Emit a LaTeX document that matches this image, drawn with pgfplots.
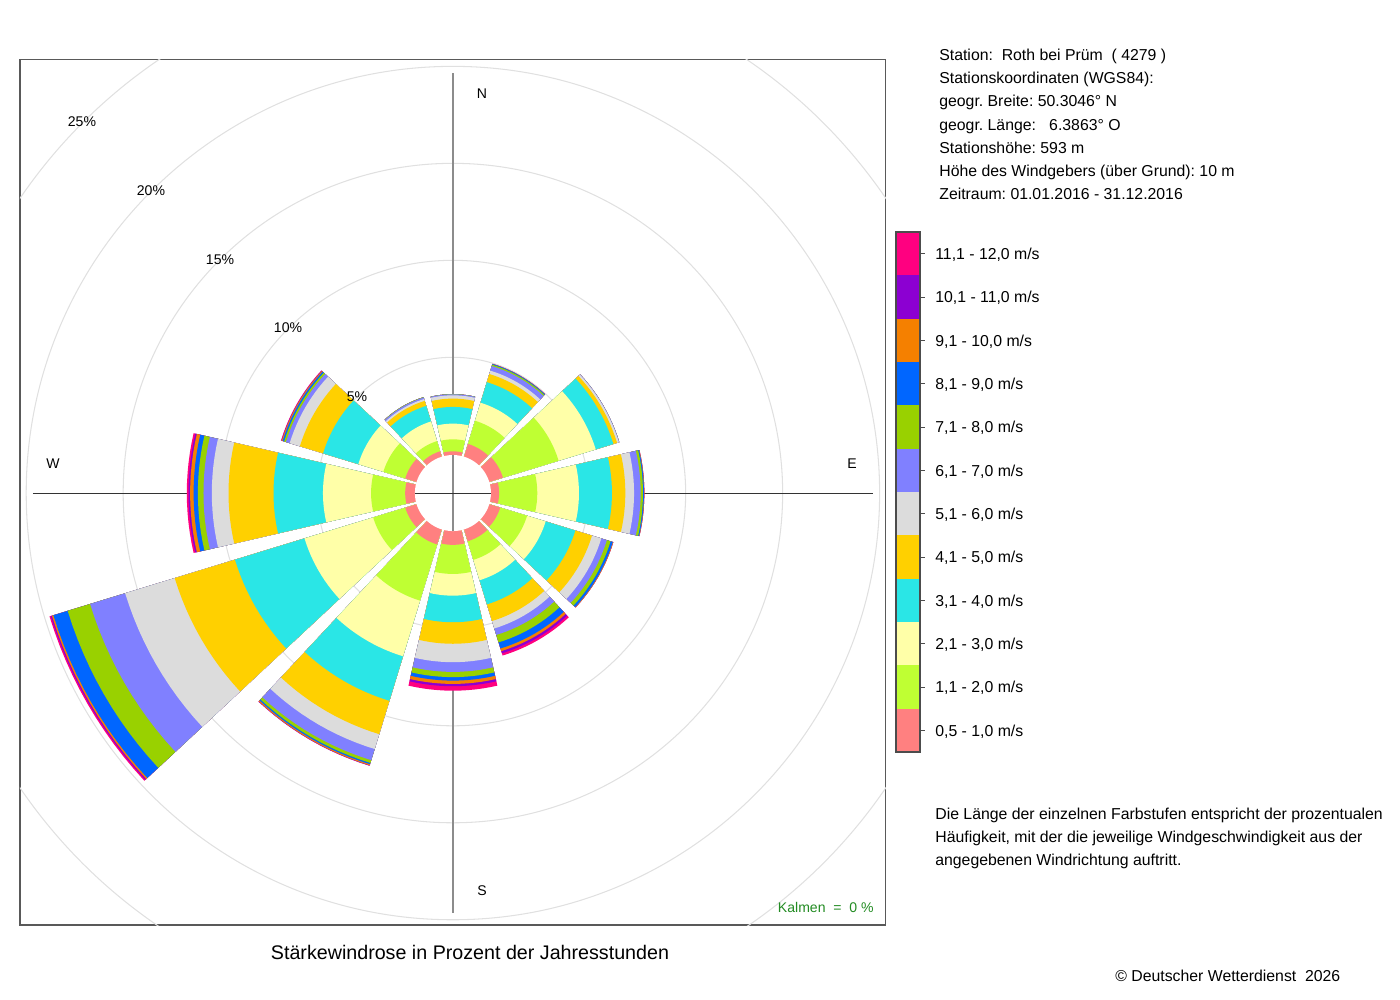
\documentclass[border=0pt]{standalone}
\usepackage{pgfplots}
\pgfplotsset{compat=1.18}
\usepackage{pgfplotstable}
\usepgfplotslibrary{polar}
\usepackage{fontspec}
\setmainfont{Liberation Sans}
\frenchspacing

\definecolor{c1}{RGB}{255,128,128}
\definecolor{c2}{RGB}{191,255,51}
\definecolor{c3}{RGB}{255,255,168}
\definecolor{c4}{RGB}{42,230,230}
\definecolor{c5}{RGB}{255,208,0}
\definecolor{c6}{RGB}{220,220,220}
\definecolor{c7}{RGB}{128,128,255}
\definecolor{c8}{RGB}{153,209,0}
\definecolor{c9}{RGB}{0,102,255}
\definecolor{c10}{RGB}{245,128,0}
\definecolor{c11}{RGB}{140,0,210}
\definecolor{c12}{RGB}{255,0,128}
\definecolor{kalm}{RGB}{34,139,34}

% percent of year hours per direction (rows) and speed class (columns c1..c12)
\pgfplotstableread{
dir c1 c2 c3 c4 c5 c6 c7 c8 c9 c10 c11 c12
0   0.15 0.62 0.81 0.86 0.43 0.17 0.05 0.01 0 0 0 0
30  0.65 1.25 0.97 1.11 0.44 0.18 0.25 0.07 0.04 0.01 0 0
60  0.70 3.00 2.00 0.95 0.20 0.10 0.02 0 0 0 0 0
90  0.38 1.97 2.15 1.70 0.69 0.45 0.34 0.12 0.05 0.02 0 0
120 0.55 1.45 1.00 1.60 0.90 0.50 0.30 0.20 0.12 0.03 0 0
150 0.60 1.00 1.10 1.30 0.90 0.40 0.35 0.40 0.33 0.14 0.12 0.12
180 0.67 1.50 1.12 1.37 1.11 0.95 0.50 0.27 0.18 0.17 0.12 0.23
210 0.77 3.03 3.00 2.40 1.80 0.80 0.60 0.15 0.07 0.06 0.02 0
240 0.57 1.73 3.70 3.75 3.25 2.67 1.89 1.21 0.77 0.08 0.06 0.07
270 0.46 1.76 2.48 2.55 2.32 0.86 0.43 0.29 0.22 0.18 0.08 0.09
300 0.57 1.18 1.35 1.90 1.25 0.55 0.20 0.10 0.08 0.05 0.02 0.02
330 0.25 0.55 1.06 0.84 0.27 0.10 0.08 0.02 0 0 0 0
}\windtab

\newcount\jj
\newcommand\makepts[2]{%
  \edef\pts{(0,0)}%
  \jj=0
  \loop
    \pgfmathsetmacro\ang{90-#1-13+26/12*\the\jj}%
    \edef\pts{\pts\space(\ang,#2)}%
    \advance\jj by 1
  \ifnum\jj<13 \repeat
}
\newcommand\addcum[2]{%
  \pgfplotstablegetelem{#1}{c#2}\of\windtab
  \pgfmathsetmacro\cum{\cum+\pgfplotsretval}%
  \expandafter\let\csname rad#2\endcsname\cum
}
\newcommand\drawclass[1]{%
  \expandafter\let\expandafter\rad\csname rad#1\endcsname
  \makepts{\dir}{\rad}%
  \edef\doplot{\noexpand\addplot[fill=c#1,draw=none,data cs=polar,forget plot] coordinates {\pts};}%
  \doplot
}
\newcommand\drawsector[1]{%
  \pgfplotstablegetelem{#1}{dir}\of\windtab
  \edef\dir{\pgfplotsretval}%
  \def\cum{2}%
  \addcum{#1}{1}\addcum{#1}{2}\addcum{#1}{3}\addcum{#1}{4}%
  \addcum{#1}{5}\addcum{#1}{6}\addcum{#1}{7}\addcum{#1}{8}%
  \addcum{#1}{9}\addcum{#1}{10}\addcum{#1}{11}\addcum{#1}{12}%
  \drawclass{12}\drawclass{11}\drawclass{10}\drawclass{9}%
  \drawclass{8}\drawclass{7}\drawclass{6}\drawclass{5}%
  \drawclass{4}\drawclass{3}\drawclass{2}\drawclass{1}%
}

\begin{document}
\begin{tikzpicture}[x=0.02cm,y=0.02cm]
\path (0,0) rectangle (1400,1000);
\begin{axis}[at={(0.4cm,1.5cm)}, anchor=south west, scale only axis,
  width=17.32cm, height=17.32cm,
  xmin=-22.32, xmax=22.32, ymin=-22.27, ymax=22.37,
  xtick=\empty, ytick=\empty,
  axis line style={black!65, line width=0.6pt}]
% grid circles 5..25 %
\draw[black!12, line width=0.6pt] (0,0) circle[radius=7];
\draw[black!12, line width=0.6pt] (0,0) circle[radius=12];
\draw[black!12, line width=0.6pt] (0,0) circle[radius=17];
\draw[black!12, line width=0.6pt] (0,0) circle[radius=22];
\draw[black!12, line width=0.6pt] (0,0) circle[radius=27];
% cross
\draw[black!45, line width=0.9pt] (0,-21.65) -- (0,21.65);
\draw[black!80, line width=0.6pt] (-21.65,0) -- (21.65,0);
% sectors
\drawsector{0}\drawsector{1}\drawsector{2}\drawsector{3}
\drawsector{4}\drawsector{5}\drawsector{6}\drawsector{7}
\drawsector{8}\drawsector{9}\drawsector{10}\drawsector{11}
% hole
\fill[white] (0,0) circle[radius=1.96];
\draw[black!45, line width=0.9pt] (0,-1.96) -- (0,1.96);
\draw[black!80, line width=0.6pt] (-1.96,0) -- (1.96,0);
\end{axis}

% compass and percent labels
\begin{scope}[font=\fontsize{8}{9.6}\selectfont]
\node at (482,906) {N};
\node at (852,536) {E};
\node at (482,109) {S};
\node at (53,536) {W};
\node at (82,878) {25\%};
\node at (151,809) {20\%};
\node at (220,740) {15\%};
\node at (288,672) {10\%};
\node at (357,603) {5\%};
\node[anchor=base east, text=kalm, inner sep=0pt] at (874,87) {Kalmen\ \ =\ \ 0 \%};
\end{scope}

% title
\node[anchor=base, inner sep=0pt, font=\fontsize{11.2}{13}\selectfont] at (470,40) {Stärkewindrose in Prozent der Jahresstunden};

% station info
\begin{scope}[font=\fontsize{9}{10.8}\selectfont]
\node[anchor=base west, inner sep=0pt] at (939,939) {Station:\ \ Roth bei Prüm\ \ ( 4279 )};
\node[anchor=base west, inner sep=0pt] at (939,916) {Stationskoordinaten (WGS84):};
\node[anchor=base west, inner sep=0pt] at (939,893) {geogr. Breite: 50.3046° N};
\node[anchor=base west, inner sep=0pt] at (939,869) {geogr. Länge:\ \ \ 6.3863° O};
\node[anchor=base west, inner sep=0pt] at (939,846) {Stationshöhe: 593 m};
\node[anchor=base west, inner sep=0pt] at (939,823) {Höhe des Windgebers (über Grund): 10 m};
\node[anchor=base west, inner sep=0pt] at (939,800) {Zeitraum: 01.01.2016 - 31.12.2016};

% colour bar legend
\fill[c12] (896,768) rectangle (920,724.67);
\fill[c11] (896,724.67) rectangle (920,681.33);
\fill[c10] (896,681.33) rectangle (920,638);
\fill[c9]  (896,638) rectangle (920,594.67);
\fill[c8]  (896,594.67) rectangle (920,551.33);
\fill[c7]  (896,551.33) rectangle (920,508);
\fill[c6]  (896,508) rectangle (920,464.67);
\fill[c5]  (896,464.67) rectangle (920,421.33);
\fill[c4]  (896,421.33) rectangle (920,378);
\fill[c3]  (896,378) rectangle (920,334.67);
\fill[c2]  (896,334.67) rectangle (920,291.33);
\fill[c1]  (896,291.33) rectangle (920,248);
\draw[black!70, line width=0.6pt] (896,248) rectangle (920,768);
\draw[black!70, line width=0.5pt] (920,746.33) -- (925,746.33) (920,703) -- (925,703)
  (920,659.67) -- (925,659.67) (920,616.33) -- (925,616.33) (920,573) -- (925,573)
  (920,529.67) -- (925,529.67) (920,486.33) -- (925,486.33) (920,443) -- (925,443)
  (920,399.67) -- (925,399.67) (920,356.33) -- (925,356.33) (920,313) -- (925,313)
  (920,269.67) -- (925,269.67);
\node[anchor=base west, inner sep=0pt] at (935,740.33) {11,1 - 12,0 m/s};
\node[anchor=base west, inner sep=0pt] at (935,697) {10,1 - 11,0 m/s};
\node[anchor=base west, inner sep=0pt] at (935,653.67) {9,1 - 10,0 m/s};
\node[anchor=base west, inner sep=0pt] at (935,610.33) {8,1 - 9,0 m/s};
\node[anchor=base west, inner sep=0pt] at (935,567) {7,1 - 8,0 m/s};
\node[anchor=base west, inner sep=0pt] at (935,523.67) {6,1 - 7,0 m/s};
\node[anchor=base west, inner sep=0pt] at (935,480.33) {5,1 - 6,0 m/s};
\node[anchor=base west, inner sep=0pt] at (935,437) {4,1 - 5,0 m/s};
\node[anchor=base west, inner sep=0pt] at (935,393.67) {3,1 - 4,0 m/s};
\node[anchor=base west, inner sep=0pt] at (935,350.33) {2,1 - 3,0 m/s};
\node[anchor=base west, inner sep=0pt] at (935,307) {1,1 - 2,0 m/s};
\node[anchor=base west, inner sep=0pt] at (935,263.67) {0,5 - 1,0 m/s};

% note
\node[anchor=base west, inner sep=0pt] at (935,180) {Die Länge der einzelnen Farbstufen entspricht der prozentualen};
\node[anchor=base west, inner sep=0pt] at (935,157) {Häufigkeit, mit der die jeweilige Windgeschwindigkeit aus der};
\node[anchor=base west, inner sep=0pt] at (935,134) {angegebenen Windrichtung auftritt.};
\node[anchor=base west, inner sep=0pt] at (1115,18) {© Deutscher Wetterdienst\ \ 2026};
\end{scope}
\end{tikzpicture}
\end{document}
